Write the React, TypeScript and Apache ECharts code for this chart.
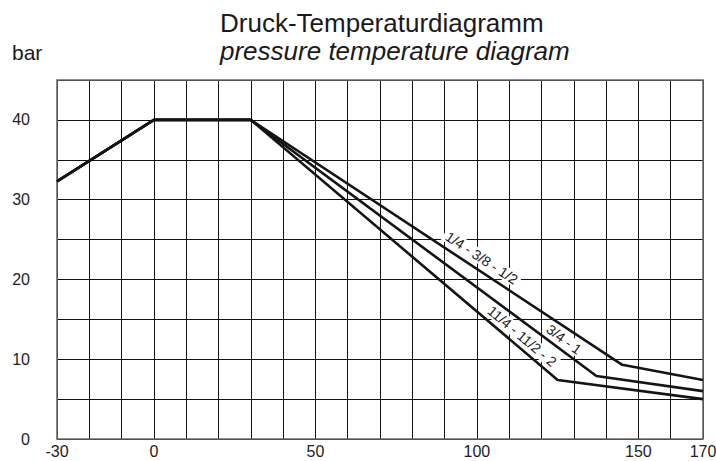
import React, { useEffect, useRef } from "react";
import * as echarts from "echarts";

const titleDe = "Druck-Temperaturdiagramm";
const titleEn = "pressure temperature diagram";
const unitLabel = "bar";

const xMin = -30;
const xMax = 170;
const xStep = 10;
const yMin = 0;
const yMax = 45;
const yStep = 5;
const xTickLabels = [-30, 0, 50, 100, 150, 170];
const yTickLabels = [0, 10, 20, 30, 40];

// shared part of all curves (temperature °C, pressure bar)
const sharedTemps = [-30, 0, 30];
const sharedBar = [32.3, 40, 40];

const seriesNames = ["1/4 - 3/8 - 1/2", "3/4 - 1", "11/4 - 11/2 - 2"];
const kneeTemps = [145, 137, 125];
const kneeBar = [9.3, 7.9, 7.4];
const endTemp = 170;
const endBar = [7.4, 6.0, 5.0];

// label anchor positions in data coordinates
const labelTemps = [101.5, 127, 114];
const labelBar = [22.7, 12.5, 12.9];

const FONT = "'Liberation Sans', Arial, Helvetica, sans-serif";

export default function App() {
  const ref = useRef<HTMLDivElement>(null);
  useEffect(() => {
    if (!ref.current) return;
    const chart = echarts.init(ref.current, null, { renderer: "svg" });
    const series = seriesNames.map((name, i) => ({
      name,
      type: "line",
      data: [
        ...sharedTemps.map((t, k) => [t, sharedBar[k]]),
        [kneeTemps[i], kneeBar[i]],
        [endTemp, endBar[i]],
      ],
      showSymbol: false,
      symbol: "none",
      lineStyle: { color: "#141414", width: 2.6 },
      z: 3,
    }));
    chart.setOption({
      animation: false,
      backgroundColor: "#ffffff",
      grid: {
        left: 57,
        right: 13,
        top: 80,
        bottom: 22,
        containLabel: false,
        outerBoundsMode: "none",
        show: true,
        borderColor: "#6a6a6a",
        borderWidth: 1.6,
        backgroundColor: "transparent",
        z: 1,
      },
      xAxis: {
        type: "value",
        min: xMin,
        max: xMax,
        interval: xStep,
        axisLine: { show: false },
        axisTick: { show: false },
        splitLine: { show: true, lineStyle: { color: "#111", width: 1 } },
        axisLabel: {
          margin: 4,
          fontSize: 16,
          lineHeight: 17,
          color: "#222",
          fontFamily: FONT,
          showMinLabel: true,
          showMaxLabel: true,
          formatter: (v: number) => (xTickLabels.includes(v) ? String(v) : ""),
        },
      },
      yAxis: {
        type: "value",
        min: yMin,
        max: yMax,
        interval: yStep,
        axisLine: { show: false },
        axisTick: { show: false },
        splitLine: { show: true, lineStyle: { color: "#111", width: 1 } },
        axisLabel: {
          margin: 27,
          fontSize: 16,
          color: "#222",
          fontFamily: FONT,
          showMaxLabel: false,
          formatter: (v: number) => (yTickLabels.includes(v) ? String(v) : ""),
        },
      },
      series,
    });

    const toPx = (x: number, y: number) =>
      chart.convertToPixel({ gridIndex: 0 }, [x, y]) as number[];
    const labelEls = seriesNames.map((name, i) => {
      const p0 = toPx(sharedTemps[2], sharedBar[2]);
      const p1 = toPx(kneeTemps[i], kneeBar[i]);
      const ang = Math.atan2(p1[1] - p0[1], p1[0] - p0[0]);
      const c = toPx(labelTemps[i], labelBar[i]);
      return {
        type: "text",
        x: c[0],
        y: c[1],
        rotation: -ang,
        z: 2,
        style: {
          text: name,
          fontSize: 14,
          fontFamily: FONT,
          fill: "#1a1a1a",
          align: "center",
          verticalAlign: "middle",
          backgroundColor: "#ffffff",
          padding: [0, 3],
        },
      };
    });

    chart.setOption({
      graphic: [
        {
          type: "text",
          left: 220,
          top: 10,
          style: { text: titleDe, fontSize: 26, fontFamily: FONT, fill: "#1a1a1a" },
        },
        {
          type: "text",
          left: 220,
          top: 38,
          style: {
            text: titleEn,
            fontSize: 26,
            fontStyle: "italic",
            fontFamily: FONT,
            fill: "#1a1a1a",
          },
        },
        {
          type: "text",
          left: 12,
          top: 42,
          style: { text: unitLabel, fontSize: 21, fontFamily: FONT, fill: "#1a1a1a" },
        },
        ...labelEls,
      ],
    });
    return () => chart.dispose();
  }, []);
  return (
    <div
      ref={ref}
      style={{ position: "fixed", left: 0, top: 0, width: 716, height: 461 }}
    />
  );
}
